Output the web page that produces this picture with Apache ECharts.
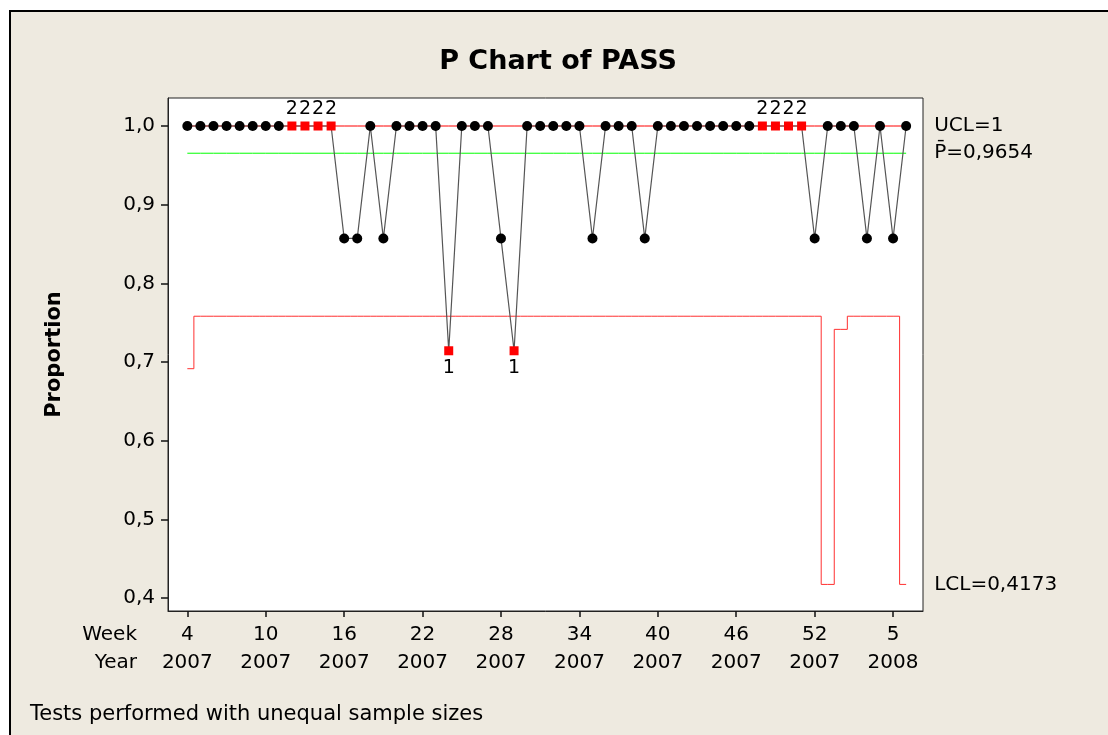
<!DOCTYPE html>
<html>
<head>
<meta charset="utf-8">
<script src="https://cdn.jsdelivr.net/npm/echarts@6/dist/echarts.min.js"></script>
<style>
  html, body { margin: 0; padding: 0; background: #ffffff; width: 1108px; height: 735px; overflow: hidden; }
  #frame { position: absolute; left: 9px; top: 10px; width: 1300px; height: 900px; background: #EEEAE0; border-left: 2px solid #000; border-top: 2px solid #000; }
  #plotbg { position: absolute; left: 168px; top: 98px; width: 755px; height: 513px; background: #ffffff; }
  #chart { position: absolute; left: 0; top: 0; width: 1108px; height: 735px; }
</style>
</head>
<body>
<div id="frame"></div>
<div id="plotbg"></div>
<div id="chart"></div>
<script>
// ---- data ----
const weeks = [4,5,6,7,8,9,10,11,12,13,14,15,16,17,18,19,20,21,22,23,24,25,26,27,28,29,30,31,32,33,34,35,36,37,38,39,40,41,42,43,44,45,46,47,48,49,50,51,52,1,1,2,3,4,5,6];
const years = [2007,2007,2007,2007,2007,2007,2007,2007,2007,2007,2007,2007,2007,2007,2007,2007,2007,2007,2007,2007,2007,2007,2007,2007,2007,2007,2007,2007,2007,2007,2007,2007,2007,2007,2007,2007,2007,2007,2007,2007,2007,2007,2007,2007,2007,2007,2007,2007,2007,2007,2008,2008,2008,2008,2008,2008];
const proportion = [1,1,1,1,1,1,1,1, 1,1,1,1, 0.8571,0.8571,1,0.8571,1,1,1,1, 0.7143,1,1,1,0.8571,0.7143, 1,1,1,1,1,0.8571,1,1,1,0.8571, 1,1,1,1,1,1,1,1, 1,1,1,1, 0.8571,1,1,1,0.8571,1,0.8571,1];
const lcl = [0.6915, 0.7582,0.7582,0.7582,0.7582,0.7582,0.7582,0.7582,0.7582,0.7582,0.7582,0.7582,0.7582,0.7582,0.7582,0.7582,0.7582,0.7582,0.7582,0.7582,0.7582,0.7582,0.7582,0.7582,0.7582,0.7582,0.7582,0.7582,0.7582,0.7582,0.7582,0.7582,0.7582,0.7582,0.7582,0.7582,0.7582,0.7582,0.7582,0.7582,0.7582,0.7582,0.7582,0.7582,0.7582,0.7582,0.7582,0.7582,0.7582, 0.4173, 0.7415, 0.7582,0.7582,0.7582,0.7582, 0.4173];
const flags = ['','','','','','','','', '2','2','2','2', '','','','','','','','', '1','','','','','1', '','','','','','','','','','', '','','','','','','','', '2','2','2','2', '','','','','','','',''];
const UCL = 1;
const PBAR = 0.9654;
const yTicks = [0.4, 0.5, 0.6, 0.7, 0.8, 0.9, 1.0];
const xTickIdx = [0, 6, 12, 18, 24, 30, 36, 42, 48, 54];
const labels = { ucl: 'UCL=1', pbar: 'P\u0304=0,9654', lcl: 'LCL=0,4173' };

const FONT = 'DejaVu Sans';
const chart = echarts.init(document.getElementById('chart'), null, { renderer: 'canvas' });

const pointData = proportion.map((v, i) => {
  const f = flags[i];
  const d = {
    value: [i, v],
    symbol: f ? 'rect' : 'circle',
    symbolSize: f ? 9 : 10,
    itemStyle: { color: f ? '#FF0000' : '#000000' }
  };
  if (f) {
    d.label = {
      show: true, formatter: f, position: f === '2' ? 'top' : 'bottom',
      distance: 3, color: '#000', fontFamily: FONT, fontSize: 19
    };
  }
  return d;
});

const endLbl = (txt) => ({
  show: true, formatter: txt, distance: 28, color: '#000',
  fontFamily: FONT, fontSize: 20
});

const option = {
  animation: false,
  graphic: [
    { type: 'text', x: 558, y: 62, style: { text: 'P Chart of PASS', font: 'bold 27px "DejaVu Sans"', fill: '#000', align: 'center', verticalAlign: 'middle' } },
    { type: 'text', x: 137, y: 635, style: { text: 'Week', font: '20px "DejaVu Sans"', fill: '#000', align: 'right', verticalAlign: 'middle' } },
    { type: 'text', x: 137, y: 663, style: { text: 'Year', font: '20px "DejaVu Sans"', fill: '#000', align: 'right', verticalAlign: 'middle' } },
    { type: 'text', x: 30, y: 715, style: { text: 'Tests performed with unequal sample sizes', font: '21px "DejaVu Sans"', fill: '#000', align: 'left', verticalAlign: 'middle' } }
  ],
  grid: {
    left: 168, top: 98, width: 755, height: 513,
    show: true, borderColor: '#222', borderWidth: 1
  },
  xAxis: {
    type: 'value', min: -1.48, max: 56.29,
    axisLine: { show: true, onZero: false, lineStyle: { color: '#222', width: 1 } },
    splitLine: { show: false },
    axisTick: { show: true, customValues: xTickIdx, length: 6, lineStyle: { color: '#111', width: 1.5 } },
    axisLabel: {
      customValues: xTickIdx,
      formatter: (v) => weeks[v] + '\n' + years[v],
      fontSize: 20, lineHeight: 28, margin: 10, color: '#000', fontFamily: FONT
    }
  },
  yAxis: {
    type: 'value', min: 0.3835, max: 1.0356,
    name: 'Proportion', nameLocation: 'middle', nameGap: 103, nameRotate: 90,
    nameTextStyle: { fontFamily: FONT, fontSize: 21, fontWeight: 'bold', color: '#000' },
    axisLine: { show: true, onZero: false, lineStyle: { color: '#222', width: 1 } },
    splitLine: { show: false },
    axisTick: { show: true, customValues: yTicks, length: 7, lineStyle: { color: '#111', width: 1.5 } },
    axisLabel: {
      customValues: yTicks,
      formatter: (v) => v.toFixed(1).replace('.', ','),
      fontSize: 20, margin: 13, color: '#000', fontFamily: FONT
    }
  },
  series: [
    { name: 'LCL', type: 'line', step: 'middle', data: lcl.map((v, i) => [i, v]),
      symbol: 'none', lineStyle: { color: '#FF3030', width: 1 }, endLabel: endLbl(labels.lcl) },
    { name: 'UCL', type: 'line', data: weeks.map((w, i) => [i, UCL]),
      symbol: 'none', lineStyle: { color: '#FF0000', width: 1 }, endLabel: endLbl(labels.ucl) },
    { name: 'P', type: 'line', data: weeks.map((w, i) => [i, PBAR]),
      symbol: 'none', lineStyle: { color: '#00FF00', width: 1 }, endLabel: endLbl(labels.pbar) },
    { name: 'Proportion', type: 'line', data: pointData, showSymbol: true,
      lineStyle: { color: '#555555', width: 1.2 } }
  ]
};
chart.setOption(option);
</script>
</body>
</html>
